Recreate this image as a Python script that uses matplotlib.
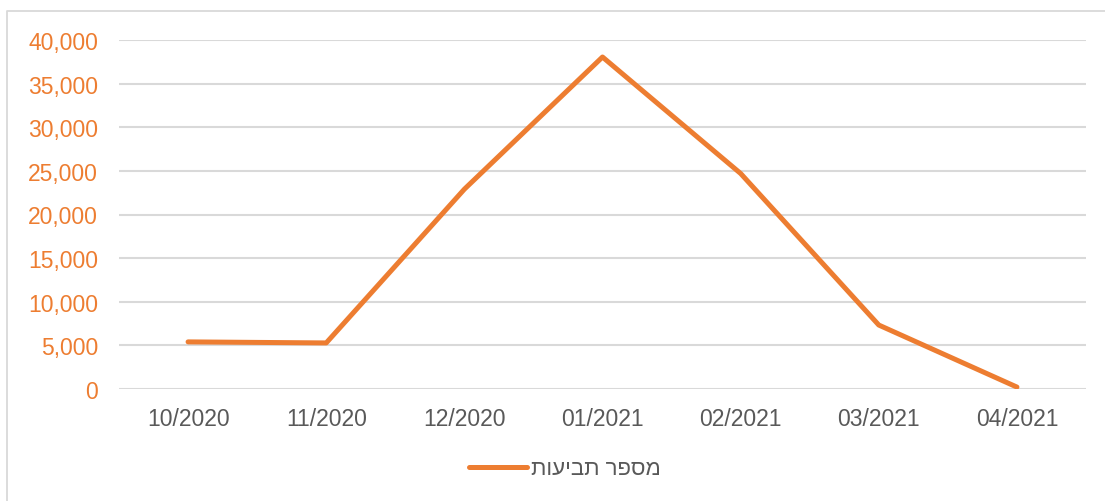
import matplotlib
matplotlib.use("Agg")
import matplotlib.pyplot as plt
from matplotlib.lines import Line2D
from matplotlib.ticker import FuncFormatter

categories = ["10/2020", "11/2020", "12/2020", "01/2021", "02/2021", "03/2021", "04/2021"]
claims = [5400, 5280, 22900, 38050, 24700, 7330, 220]
series_name = "מספר תביעות"
y_ticks = [0, 5000, 10000, 15000, 20000, 25000, 30000, 35000, 40000]

ORANGE = "#ED7D31"
GRID = "#D9D9D9"
TXT = "#595959"

plt.rcParams['font.family'] = ['Liberation Sans', 'DejaVu Sans']

W, H = 1105, 502
fig = plt.figure(figsize=(W / 100, H / 100), dpi=100)
fig.patch.set_facecolor("white")

ax = fig.add_axes([119 / W, 1 - 390 / H, (1086 - 119) / W, (390 - 41) / H])
x = list(range(len(categories)))
ax.plot(x, claims, color=ORANGE, lw=3.6, solid_capstyle="round", solid_joinstyle="round",
        label=series_name[::-1])

ax.set_xlim(-0.5, len(categories) - 0.5)
ax.set_ylim(0, 40000)
ax.set_yticks(y_ticks)
ax.yaxis.set_major_formatter(FuncFormatter(lambda v, p: f"{int(v):,}"))
ax.set_xticks(x)
ax.set_xticklabels(categories)
ax.grid(axis="y", color=GRID, lw=1.5)
ax.set_axisbelow(True)
for s in ax.spines.values():
    s.set_visible(False)
ax.tick_params(axis="y", length=0, labelsize=16.5, labelcolor=ORANGE, pad=15)
ax.tick_params(axis="x", length=0, labelsize=16.5, labelcolor=TXT, pad=13)

# outer chart border (partially visible)
fig.add_artist(Line2D([7 / W, 7 / W, 1.0], [0.0, 1 - 12 / H, 1 - 12 / H],
                      transform=fig.transFigure, color=GRID, lw=1.3))

leg = fig.legend(handles=[Line2D([], [], color=ORANGE, lw=3.6, solid_capstyle="round")],
                 labels=[series_name[::-1]], loc="center", bbox_to_anchor=(565 / W, 1 - 470 / H),
                 frameon=False, fontsize=16, handlelength=2.6, handletextpad=0.2)
for t in leg.get_texts():
    t.set_color(TXT)

fig.savefig("out.png", dpi=100)
